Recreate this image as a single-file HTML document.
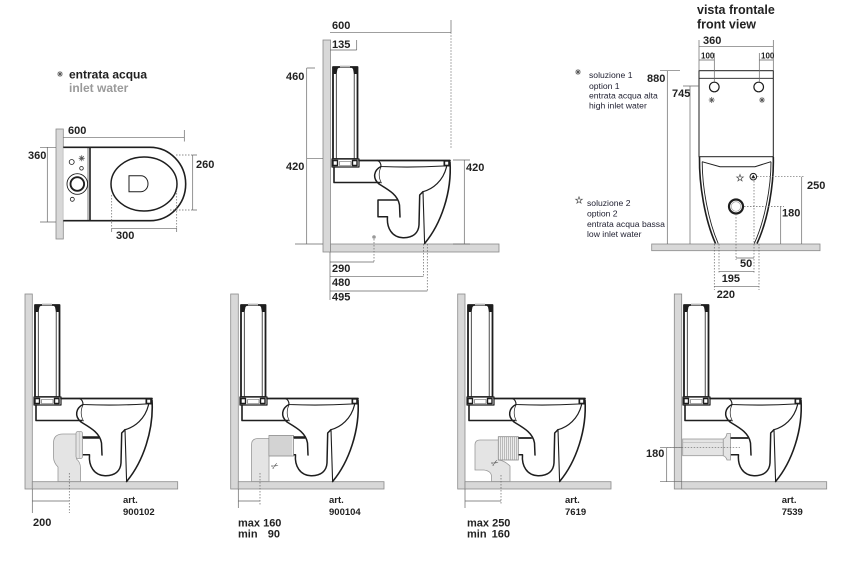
<!DOCTYPE html>
<html><head><meta charset="utf-8"><style>
html,body{margin:0;padding:0;background:#fff;}
svg{display:block;}
text{font-family:"Liberation Sans",Arial,sans-serif;}
.b{font-weight:bold;fill:#222;}
.d{font-size:11px;}
.r{font-size:8.6px;fill:#223;}
</style></head><body>
<svg width="855" height="569" viewBox="0 0 855 569" xmlns="http://www.w3.org/2000/svg">
<defs>
 <g id="ast"><path d="M-3,0H3M0,-3V3M-2.1,-2.1L2.1,2.1M-2.1,2.1L2.1,-2.1" stroke="#555" stroke-width="0.8" fill="none"/></g>
 <polygon id="star" points="0,-3.5 0.82,-1.13 3.33,-1.08 1.33,0.43 2.06,2.83 0,1.4 -2.06,2.83 -1.33,0.43 -3.33,-1.08 -0.82,-1.13" fill="#fff" stroke="#555" stroke-width="0.7"/>
 <g id="toilet" fill="none" stroke="#1e1e1e" stroke-linejoin="round" stroke-linecap="round">
  <!-- tank -->
  <rect x="333" y="67" width="24.5" height="92" fill="#fff" stroke-width="1.8"/>
  <line x1="336.3" y1="71" x2="336.3" y2="159" stroke-width="0.8"/>
  <line x1="354.2" y1="71" x2="354.2" y2="159" stroke-width="0.8"/>
  <path d="M333,67 H339.5 L337.5,69 L336.5,74 H333 Z" fill="#1e1e1e" stroke="none"/>
  <path d="M357.5,67 H351 L353,69 L354,74 H357.5 Z" fill="#1e1e1e" stroke="none"/>
  <rect x="340" y="65.6" width="10" height="1.8" fill="#bbb" stroke="none"/>
  <rect x="332" y="159" width="27" height="8" fill="#fff" stroke-width="1.2"/>
  <rect x="333" y="160.5" width="4.5" height="5" fill="#fff" stroke-width="1.4"/>
  <rect x="352.5" y="160.5" width="4.5" height="5" fill="#fff" stroke-width="1.4"/>
  <rect x="339.5" y="161.5" width="11.5" height="4" stroke="#555" stroke-width="0.6"/>
  <!-- seat -->
  <path d="M359,160.5 H450" stroke-width="1.7"/>
  <path d="M334,167 V182.5 H380" stroke-width="1.6"/>
  <path d="M377.5,160.5 Q381,162 381,166.5 Q412,167.8 443.5,166" stroke-width="1.1"/>
  <rect x="443.5" y="160" width="6.5" height="6.5" fill="#1e1e1e" stroke="none"/>
  <rect x="445.2" y="161.7" width="3" height="3" fill="#fff" stroke="none"/>
  <!-- bowl -->
  <path d="M381,166.5 C374,170 372,178 379,184 C389,190 398,195 399.5,205 L400,217" stroke-width="1.5"/>
  <path d="M381,167 C378.5,172 378.5,178 381.5,183" stroke-width="0.7"/>
  <path d="M396.8,200 H378 V216.7 H387.5 C386.5,228 392,237.5 403,237.7 C413,238 418.5,233 419,225 L419.7,195 L423,191.7" stroke-width="1.5"/>
  <path d="M423,191.7 C433,189 443,181 446.5,167" stroke-width="1.2"/>
  <path d="M423,191.7 L424.6,243.5" stroke-width="1.1"/>
  <path d="M450,162 C452,192 441,224 424.6,243.5" stroke-width="1.6"/>
 </g>
</defs>
<rect width="855" height="569" fill="#fff"/>

<!-- ============ PLAN VIEW ============ -->
<use href="#ast" transform="translate(60,74)"/>
<text x="69" y="78.5" class="b" font-size="12">entrata acqua</text>
<text x="69" y="92" font-size="12" font-weight="bold" fill="#9a9a9a">inlet water</text>

<rect x="56" y="129" width="7.3" height="110" fill="#d8d8d8" stroke="#8a8a8a" stroke-width="0.8"/>
<g fill="none" stroke="#1e1e1e">
 <path d="M63.3,147.3 H90 V220.7 H63.3" stroke-width="1.6" fill="#fff"/>
 <path d="M90,147.3 H150 A35.7,36.7 0 0 1 150,220.7 H90" stroke-width="1.6"/>
 <line x1="88" y1="147.3" x2="88" y2="220.7" stroke-width="0.6"/>
 <ellipse cx="144" cy="184" rx="33" ry="27" stroke-width="1.5"/>
 <path d="M129,175.7 H141 A7,8 0 0 1 141,191.7 H129 Z" stroke-width="1"/>
 <circle cx="77.3" cy="184" r="10.3" stroke-width="0.9"/>
 <circle cx="77.3" cy="184" r="6.8" stroke-width="1.9"/>
 <circle cx="71.7" cy="162" r="2.5" stroke-width="0.8"/>
 <circle cx="81.5" cy="168.3" r="1.8" stroke-width="0.8"/>
 <circle cx="72.3" cy="199.3" r="2" stroke-width="0.8"/>
</g>
<use href="#ast" transform="translate(81.7,158.3)"/>
<g stroke="#666" stroke-width="0.7" fill="none">
 <path d="M63.3,137.3 H184.3 M184.3,130 V141.5"/>
 <path d="M47.3,147.3 V222 M40,147.3 H56 M40,222 H56"/>
 <path d="M192.7,155 V210 M192.7,155 H197 M192.7,210 H197"/>
 <path d="M176,155 H192.7 M170,210 H192.7" stroke-dasharray="1.5,1.5"/>
 <path d="M111.7,228.3 H176.7 M111.7,228.3 V232 M176.7,228.3 V232"/>
 <path d="M111.7,195 V228.3 M176.7,190 V228.3" stroke-dasharray="1.5,1.5"/>
</g>
<text x="68" y="134" class="b d">600</text>
<text x="28" y="159" class="b d">360</text>
<text x="196" y="168" class="b d">260</text>
<text x="116" y="239" class="b d">300</text>

<!-- ============ SIDE VIEW (top) ============ -->
<rect x="323" y="40" width="7.5" height="212" fill="#d8d8d8" stroke="#8a8a8a" stroke-width="0.8"/>
<rect x="330.5" y="244" width="168.5" height="8" fill="#d8d8d8" stroke="#8a8a8a" stroke-width="0.8"/>
<use href="#toilet"/>
<circle cx="374" cy="237" r="1.8" fill="#999"/>
<g stroke="#666" stroke-width="0.7" fill="none">
 <path d="M330,32.3 H451 M451,20 V32.3"/>
 <path d="M451,32.3 V148" stroke-dasharray="1.5,1.5"/>
 <path d="M330,50 H356.7 M356.7,40 V50"/>
 <path d="M306.7,68 V244 M306.7,68 H315 M306.7,158.7 H323 M295,244 H323"/>
 <path d="M464.3,160 V244 M453,160 H470 M453,244 H470"/>
 <path d="M330,252 V300"/>
 <path d="M330,262 H374 M330,276.7 H423.5 M330,291 H427.3"/>
 <path d="M374,239 V262 M423.5,244 V277 M427.3,244 V291" stroke-dasharray="1.5,1.5"/>
</g>
<text x="332" y="29" class="b d">600</text>
<text x="332" y="48" class="b d">135</text>
<text x="286" y="80" class="b d">460</text>
<text x="286" y="170" class="b d">420</text>
<text x="466" y="171" class="b d">420</text>
<text x="332" y="272" class="b d">290</text>
<text x="332" y="286" class="b d">480</text>
<text x="332" y="300.5" class="b d">495</text>

<!-- ============ FRONT VIEW ============ -->
<text x="697" y="14" class="b" font-size="12.5">vista frontale</text>
<text x="697" y="28.5" class="b" font-size="12.5">front view</text>
<use href="#ast" transform="translate(578,72)"/>
<text x="589" y="78" class="r">soluzione 1</text>
<text x="589" y="89" class="r">option 1</text>
<text x="589" y="98.5" class="r">entrata acqua alta</text>
<text x="589" y="108.5" class="r">high inlet water</text>
<use href="#star" transform="translate(579,200.3)"/>
<text x="587" y="206" class="r">soluzione 2</text>
<text x="587" y="216.5" class="r">option 2</text>
<text x="587" y="227" class="r">entrata acqua bassa</text>
<text x="587" y="237" class="r">low inlet water</text>

<rect x="651.7" y="244" width="168.3" height="6.7" fill="#d8d8d8" stroke="#8a8a8a" stroke-width="0.8"/>
<g fill="none" stroke="#1e1e1e">
 <rect x="699" y="70.7" width="74.3" height="86" fill="#fff" stroke-width="1"/>
 <line x1="699" y1="78.3" x2="773.3" y2="78.3" stroke-width="0.8"/>
 <circle cx="714.3" cy="87" r="4.8" stroke-width="1.2"/>
 <circle cx="758.7" cy="87" r="4.8" stroke-width="1.2"/>
 <path d="M699.5,157 C699,185 705,220 715.5,243.5" stroke-width="1.6"/>
 <path d="M702.2,161.7 C702.2,187 708,220 718.2,243.5" stroke-width="0.9"/>
 <path d="M773.3,157 C774,185 768,220 757,243.5" stroke-width="1.6"/>
 <path d="M771,161.7 C771,187 765,220 754.3,243.5" stroke-width="0.9"/>
 <path d="M702,161.7 L720,166.7 H755 L771,161.7" stroke-width="1"/>
 <circle cx="736" cy="206.5" r="7" fill="#fff" stroke-width="2.2"/>
 <circle cx="736" cy="206.5" r="4.8" stroke="#999" stroke-width="0.6"/>
 <circle cx="753.3" cy="176.7" r="3.3" fill="#fff" stroke-width="1"/>
</g>
<path d="M751.3,178.2 L753.3,174.6 L755.3,178.2 Z" fill="#1e1e1e"/>
<use href="#ast" transform="translate(711.7,100)"/>
<use href="#ast" transform="translate(762,100)"/>
<use href="#star" transform="translate(740,178)"/>
<g stroke="#666" stroke-width="0.7" fill="none">
 <path d="M699,46.7 H773.3 M699,40 V70.7 M773.3,40 V70.7"/>
 <path d="M699,60 H714.3 M759.3,60 H773.3 M714.3,53 V82 M759.3,53 V82"/>
 <path d="M667.3,70.7 V244 M660,70.7 H680"/>
 <path d="M690,86 V244 M683,86 H699"/>
 <path d="M801.7,176.7 V244 M780.7,206.5 V244"/>
 <path d="M757,176.7 H805 M744,206.5 H784" stroke-dasharray="1.5,1.5"/>
 <path d="M736,258 H754 M719,271.7 H754 M714.3,286.7 H759"/>
 <path d="M736,214 V260 M754,181 V274 M719,244 V274 M714.3,244 V290 M759,244 V290" stroke-dasharray="1.5,1.5"/>
</g>
<text x="703" y="44" class="b d">360</text>
<text x="701" y="58.5" class="b" font-size="8">100</text>
<text x="761" y="58.5" class="b" font-size="8">100</text>
<text x="647" y="82" class="b d">880</text>
<text x="672" y="97" class="b d">745</text>
<text x="807" y="189" class="b d">250</text>
<text x="782" y="216.7" class="b d">180</text>
<text x="740" y="267" class="b d">50</text>
<text x="721.7" y="282" class="b d">195</text>
<text x="716.7" y="298" class="b d">220</text>

<!-- ============ BOTTOM 1 ============ -->
<rect x="25" y="294" width="7.3" height="195" fill="#d8d8d8" stroke="#8a8a8a" stroke-width="0.8"/>
<rect x="32.3" y="481.7" width="145.4" height="7.3" fill="#d8d8d8" stroke="#8a8a8a" stroke-width="0.8"/>
<use href="#toilet" transform="translate(-298,238)"/>
<path d="M58,481.5 V467 C55,464 53.5,461 53.5,457 V443 C53.5,437 57,434 63,434 H76.5 V459 C79,461 80.5,464 80.5,468 V481.5 Z" fill="#e4e4e4" stroke="#999" stroke-width="0.8"/>
<rect x="76" y="431.5" width="6.5" height="27" rx="2" fill="#e4e4e4" stroke="#999" stroke-width="0.8"/>
<line x1="79.2" y1="432" x2="79.2" y2="458" stroke="#aaa" stroke-width="0.5"/>
<line x1="82.5" y1="437" x2="99" y2="437" stroke="#1e1e1e" stroke-width="1.5"/>
<g stroke="#666" stroke-width="0.7" fill="none">
 <path d="M32.3,489 V513 M32.3,501 H69.3"/>
 <path d="M69.3,473 V513" stroke-dasharray="1.5,1.5"/>
</g>
<text x="33" y="526" class="b d">200</text>
<text x="123" y="503" class="b" font-size="9.5">art.</text>
<text x="123" y="515" class="b" font-size="9.5">900102</text>

<!-- ============ BOTTOM 2 ============ -->
<rect x="230.7" y="294" width="7.6" height="195" fill="#d8d8d8" stroke="#8a8a8a" stroke-width="0.8"/>
<rect x="238.3" y="481.7" width="145.7" height="7.3" fill="#d8d8d8" stroke="#8a8a8a" stroke-width="0.8"/>
<use href="#toilet" transform="translate(-92,238)"/>
<path d="M251.5,481.5 V445 Q251.5,438.5 258,438.5 H269 V481.5 Z" fill="#e4e4e4" stroke="#999" stroke-width="0.8"/>
<rect x="269" y="435.5" width="24.5" height="20.5" fill="#ececec" stroke="#888" stroke-width="0.8"/>
<path d="M271,436V455.5M273,436V455.5M275,436V455.5M277,436V455.5M279,436V455.5M281,436V455.5M283,436V455.5M285,436V455.5M287,436V455.5M289,436V455.5M291,436V455.5" stroke="#999" stroke-width="0.6"/>
<line x1="293.5" y1="437" x2="305" y2="437" stroke="#1e1e1e" stroke-width="1.5"/>
<text x="275" y="469" font-size="9" fill="#555" transform="rotate(-30 275 466)" text-anchor="middle" font-family="DejaVu Sans, sans-serif">✂</text>
<g stroke="#666" stroke-width="0.7" fill="none">
 <path d="M238.3,489 V508 M238.3,501 H260"/>
 <path d="M260,473 V505" stroke-dasharray="1.5,1.5"/>
</g>
<text x="238" y="526.5" class="b d">max 160</text>
<text x="238" y="537.5" class="b d">min</text>
<text x="280" y="537.5" class="b d" text-anchor="end">90</text>
<text x="329" y="503" class="b" font-size="9.5">art.</text>
<text x="329" y="515" class="b" font-size="9.5">900104</text>

<!-- ============ BOTTOM 3 ============ -->
<rect x="457.7" y="294" width="7.3" height="195" fill="#d8d8d8" stroke="#8a8a8a" stroke-width="0.8"/>
<rect x="465" y="481.7" width="146" height="7.3" fill="#d8d8d8" stroke="#8a8a8a" stroke-width="0.8"/>
<use href="#toilet" transform="translate(135,238)"/>
<path d="M475,445 Q475,440 480,440 H499 V460 Q505,461 510,466 V481.5 H491.5 V476 Q491,471 484,470 H475 Z" fill="#e4e4e4" stroke="#999" stroke-width="0.8"/>
<rect x="498.3" y="436.7" width="20" height="23.3" fill="#ececec" stroke="#888" stroke-width="0.8"/>
<path d="M500.3,437V459.5M502.3,437V459.5M504.3,437V459.5M506.3,437V459.5M508.3,437V459.5M510.3,437V459.5M512.3,437V459.5M514.3,437V459.5M516.3,437V459.5" stroke="#999" stroke-width="0.6"/>
<line x1="518.3" y1="438" x2="531" y2="438" stroke="#1e1e1e" stroke-width="1.5"/>
<text x="495" y="466" font-size="9" fill="#555" transform="rotate(-30 495 463)" text-anchor="middle" font-family="DejaVu Sans, sans-serif">✂</text>
<g stroke="#666" stroke-width="0.7" fill="none">
 <path d="M465,489 V508 M465,501 H501"/>
 <path d="M501,475 V505" stroke-dasharray="1.5,1.5"/>
</g>
<text x="467" y="526.5" class="b d">max 250</text>
<text x="467" y="537.5" class="b d">min</text>
<text x="510" y="537.5" class="b d" text-anchor="end">160</text>
<text x="565" y="503" class="b" font-size="9.5">art.</text>
<text x="565" y="515" class="b" font-size="9.5">7619</text>

<!-- ============ BOTTOM 4 ============ -->
<rect x="674.3" y="294" width="7.4" height="195" fill="#d8d8d8" stroke="#8a8a8a" stroke-width="0.8"/>
<rect x="681.7" y="481.7" width="145" height="7.3" fill="#d8d8d8" stroke="#8a8a8a" stroke-width="0.8"/>
<use href="#toilet" transform="translate(351,238)"/>
<rect x="682.7" y="439" width="40.6" height="16.7" fill="#e4e4e4" stroke="#999" stroke-width="0.8"/>
<line x1="683" y1="442.5" x2="723" y2="442.5" stroke="#aaa" stroke-width="0.5"/>
<path d="M723.3,439 Q726,438 727,433.5 H730.5 V460 H727 Q726,456.5 723.3,455.7 Z" fill="#e4e4e4" stroke="#999" stroke-width="0.8"/>
<line x1="730.5" y1="438" x2="748" y2="438" stroke="#1e1e1e" stroke-width="1.5"/>
<g stroke="#666" stroke-width="0.7" fill="none">
 <path d="M666.7,447.7 H740" stroke-dasharray="1.5,1.5"/>
 <path d="M666.7,447.7 V481.7 M660,447.7 H682 M660,481.7 H682"/>
</g>
<text x="646" y="457" class="b d">180</text>
<text x="781.7" y="503" class="b" font-size="9.5">art.</text>
<text x="781.7" y="515" class="b" font-size="9.5">7539</text>
</svg>
</body></html>
